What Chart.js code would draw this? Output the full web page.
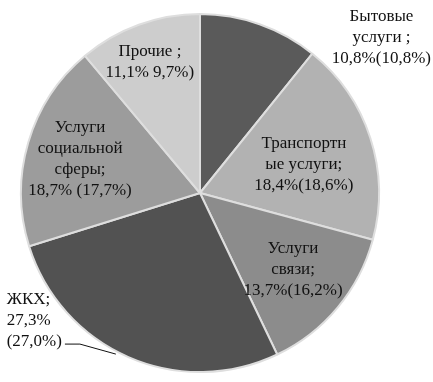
<!DOCTYPE html>
<html>
<head>
<meta charset="utf-8">
<script src="https://cdn.jsdelivr.net/npm/chart.js@4.4.0/dist/chart.umd.min.js"></script>
<style>
  html, body { margin: 0; padding: 0; background: #fff; }
  #wrap { width: 433px; height: 382px; }
</style>
</head>
<body>
<div id="wrap"><canvas id="pie" width="433" height="382"></canvas></div>
<script>
// shares of paid services, current year and (previous year)
const categories = ["Бытовые услуги", "Транспортные услуги", "Услуги связи", "ЖКХ", "Услуги социальной сферы", "Прочие"];
const shares = [10.8, 18.4, 13.7, 27.3, 18.7, 11.1];
const prevShares = [10.8, 18.6, 16.2, 27.0, 17.7, 9.7];

// how each label is split into lines, as in the original
const labelLines = [
  ["Бытовые", "услуги ;"],
  ["Транспортн", "ые услуги;"],
  ["Услуги", "связи;"],
  ["ЖКХ;"],
  ["Услуги", "социальной", "сферы;"],
  ["Прочие ;"]
];

const colors = ["#5a5a5a", "#b2b2b2", "#8c8c8c", "#525252", "#9c9c9c", "#cdcdcd"];

// label centre relative to the pie centre, in radius units
const labelPos = [
  { x: 1.06, y: -0.87, align: "center" },
  { x: 0.58, y: -0.16, align: "center" },
  { x: 0.52, y: 0.43, align: "center" },
  { x: -1.08, y: 0.71, align: "left" },
  { x: -0.67, y: -0.19, align: "center" },
  { x: -0.28, y: -0.73, align: "center" }
];

const fmt = v => v.toFixed(1).replace(".", ",") + "%";

function labelText(i) {
  const lines = labelLines[i].slice();
  if (i === 3) {
    lines.push(fmt(shares[i]));
    lines.push("(" + fmt(prevShares[i]) + ")");
  } else if (i === 4) {
    lines.push(fmt(shares[i]) + " (" + fmt(prevShares[i]) + ")");
  } else if (i === 5) {
    lines.push(fmt(shares[i]) + " " + fmt(prevShares[i]) + ")");
  } else {
    lines.push(fmt(shares[i]) + "(" + fmt(prevShares[i]) + ")");
  }
  return lines;
}

function sliceFill(ctx) {
  const arc = ctx.element;
  const base = colors[ctx.dataIndex];
  if (!arc || !arc.outerRadius) return base;
  const g = ctx.chart.ctx.createRadialGradient(arc.x, arc.y, 0, arc.x, arc.y, arc.outerRadius);
  g.addColorStop(0, base);
  g.addColorStop(0.9, base);
  g.addColorStop(0.95, shade(base, 25));
  g.addColorStop(1, shade(base, -30));
  return g;
}

function shade(hex, amt) {
  const v = Math.max(0, Math.min(255, parseInt(hex.slice(1, 3), 16) + amt));
  const h = v.toString(16).padStart(2, "0");
  return "#" + h + h + h;
}

const labelPlugin = {
  id: "sliceLabels",
  afterDatasetsDraw(chart) {
    const c = chart.ctx;
    const arcs = chart.getDatasetMeta(0).data;
    const r = arcs[0].outerRadius;
    const cx = arcs[0].x, cy = arcs[0].y;
    c.save();
    c.font = "17px 'Liberation Serif', serif";
    c.fillStyle = "#111";
    c.textBaseline = "middle";
    const lh = 21;
    arcs.forEach((a, i) => {
      const p = labelPos[i];
      const lines = labelText(i);
      let x = cx + p.x * r;
      if (p.align === "center") {
        // keep the block inside the canvas
        const half = Math.max(...lines.map(t => c.measureText(t).width)) / 2;
        x = Math.min(x, chart.width - half - 2);
      }
      const y0 = cy + p.y * r - (lines.length - 1) * lh / 2;
      c.textAlign = p.align;
      lines.forEach((t, k) => c.fillText(t, x, y0 + k * lh));
      if (i === 3) {
        // leader line from the last label line to the slice edge
        const last = lines[lines.length - 1];
        const lx = x + c.measureText(last).width + 3;
        const ly = y0 + (lines.length - 1) * lh + 3;
        c.strokeStyle = "#111";
        c.lineWidth = 1;
        c.beginPath();
        c.moveTo(lx, ly);
        c.lineTo(lx + 15, ly);
        c.lineTo(cx - 0.47 * r, cy + 0.9 * r);
        c.stroke();
      }
    });
    c.restore();
  }
};

new Chart(document.getElementById("pie"), {
  type: "pie",
  data: {
    labels: categories,
    datasets: [{
      data: shares,
      backgroundColor: sliceFill,
      borderColor: "#dedede",
      borderWidth: 2
    }]
  },
  options: {
    responsive: false,
    animation: false,
    layout: { padding: { left: 20, right: 53, top: 13, bottom: 9 } },
    plugins: {
      legend: { display: false },
      tooltip: { enabled: false }
    }
  },
  plugins: [labelPlugin]
});
</script>
</body>
</html>
